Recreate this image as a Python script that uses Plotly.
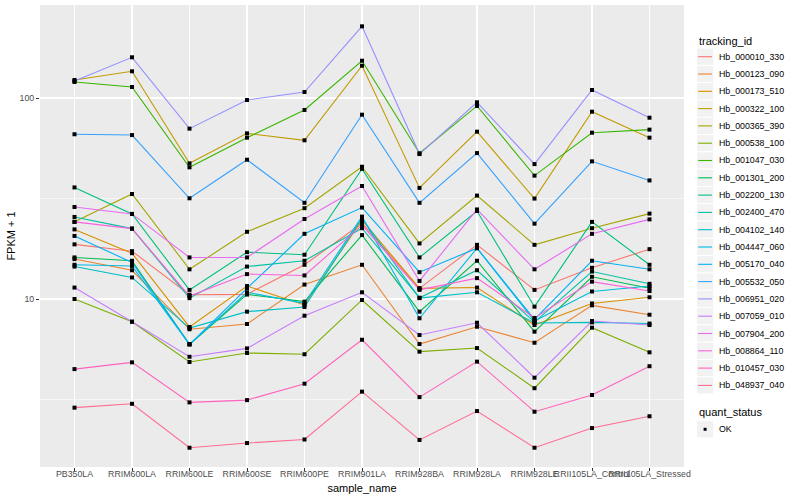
import plotly.graph_objects as go

samples = ["PB350LA", "RRIM600LA", "RRIM600LE", "RRIM600SE", "RRIM600PE", "RRIM901LA",
           "RRIM928BA", "RRIM928LA", "RRIM928LE", "RRII105LA_Control", "RRII105LA_Stressed"]

tracking_ids = ["Hb_000010_330", "Hb_000123_090", "Hb_000173_510", "Hb_000322_100",
                "Hb_000365_390", "Hb_000538_100", "Hb_001047_030", "Hb_001301_200",
                "Hb_002200_130", "Hb_002400_470", "Hb_004102_140", "Hb_004447_060",
                "Hb_005170_040", "Hb_005532_050", "Hb_006951_020", "Hb_007059_010",
                "Hb_007904_200", "Hb_008864_110", "Hb_010457_030", "Hb_048937_040"]

colors = ["#F8766D", "#EA8331", "#D89000", "#C09B00", "#A3A500", "#7CAE00", "#39B600",
          "#00BB4E", "#00BF7D", "#00C1A3", "#00BFC4", "#00BAE0", "#00B0F6", "#35A2FF",
          "#9590FF", "#C77CFF", "#E76BF3", "#FA62DB", "#FF62BC", "#FF6C91"]

# FPKM + 1 per sample
Hb_000010_330 = [18.7, 17.3, 10.5, 10.55, 14.8, 23.8, 11.3, 18.6, 11.1, 14.3, 17.7]
Hb_000123_090 = [15.8, 13.9, 7.07, 7.51, 11.8, 14.8, 5.97, 7.28, 6.06, 9.3, 8.35]
Hb_000173_510 = [22.2, 16.9, 7.26, 11.6, 9.34, 24.7, 11.3, 11.4, 7.42, 9.5, 10.2]
Hb_000322_100 = [122.9, 135.8, 47.3, 66.7, 61.6, 144.8, 35.7, 68.0, 31.6, 85.5, 63.5]
Hb_000365_390 = [24.2, 33.3, 14.05, 21.6, 28.3, 45.5, 18.9, 32.7, 18.6, 22.5, 26.6]
Hb_000538_100 = [10.0, 7.71, 4.86, 5.39, 5.31, 9.89, 5.47, 5.70, 3.60, 7.20, 5.43]
Hb_001047_030 = [120.1, 113.4, 45.2, 63.5, 87.2, 153.3, 53.1, 91.3, 41.1, 67.2, 69.6]
Hb_001301_200 = [16.1, 15.5, 5.95, 10.55, 9.70, 20.8, 8.65, 15.5, 6.88, 12.9, 11.3]
Hb_002200_130 = [35.9, 26.5, 11.1, 17.1, 16.6, 44.4, 16.1, 27.4, 9.16, 24.2, 14.8]
Hb_002400_470 = [25.6, 22.4, 10.1, 14.5, 15.5, 22.5, 10.15, 13.9, 7.68, 13.7, 11.9]
Hb_004102_140 = [14.5, 12.8, 7.17, 8.65, 9.13, 25.2, 10.1, 10.8, 7.60, 7.65, 7.55]
Hb_004447_060 = [14.8, 14.6, 5.95, 10.8, 9.52, 25.7, 8.02, 17.9, 7.77, 10.9, 11.6]
Hb_005170_040 = [20.6, 15.2, 5.95, 11.3, 21.1, 28.5, 13.6, 17.9, 7.91, 15.5, 14.05]
Hb_005532_050 = [66.0, 65.4, 31.7, 49.3, 30.1, 82.6, 30.1, 53.2, 23.7, 48.4, 38.9]
Hb_006951_020 = [121.5, 159.4, 70.4, 97.7, 107.1, 227.3, 52.6, 95.2, 46.9, 109.6, 79.8]
Hb_007059_010 = [11.4, 7.71, 5.16, 5.68, 8.26, 10.8, 6.62, 7.62, 4.06, 7.77, 7.42]
Hb_007904_200 = [28.7, 26.5, 16.1, 16.1, 25.0, 36.5, 12.3, 27.9, 14.05, 21.1, 24.9]
Hb_008864_110 = [24.2, 22.4, 10.35, 13.3, 13.1, 23.3, 11.1, 12.7, 8.05, 12.2, 10.96]
Hb_010457_030 = [4.48, 4.84, 3.06, 3.14, 3.79, 6.27, 3.25, 4.88, 2.75, 3.33, 4.63]
Hb_048937_040 = [2.88, 3.01, 1.82, 1.92, 2.00, 3.46, 1.99, 2.77, 1.82, 2.28, 2.61]

series = [Hb_000010_330, Hb_000123_090, Hb_000173_510, Hb_000322_100, Hb_000365_390,
          Hb_000538_100, Hb_001047_030, Hb_001301_200, Hb_002200_130, Hb_002400_470,
          Hb_004102_140, Hb_004447_060, Hb_005170_040, Hb_005532_050, Hb_006951_020,
          Hb_007059_010, Hb_007904_200, Hb_008864_110, Hb_010457_030, Hb_048937_040]

quant_status = ["OK"]
y_ticks = [10, 100]
y_minor = [3.1623, 31.623, 316.23]

FONT = "Liberation Sans, Arial, Helvetica, sans-serif"
W, H = 800, 500
ML, MR, MT, MB = 40, 116, 5, 33
PW, PH = W - ML - MR, H - MT - MB


def px(x):
    return (x - ML) / PW


def py(y):
    return (H - MB - y) / PH


fig = go.Figure()

for name, vals, col in zip(tracking_ids, series, colors):
    fig.add_trace(go.Scatter(x=samples, y=vals, mode="lines", name=name,
                             line=dict(color=col, width=1.1), showlegend=False,
                             hoverinfo="skip"))

all_x, all_y = [], []
for vals in series:
    all_x += samples
    all_y += vals
fig.add_trace(go.Scatter(x=all_x, y=all_y, mode="markers", name=quant_status[0],
                         marker=dict(color="black", size=4, symbol="square",
                                     line=dict(width=0)),
                         showlegend=False, hoverinfo="skip"))

shapes = []
annotations = []

# legend: tracking_id
annotations.append(dict(x=px(697), y=py(40.7), xref="paper", yref="paper",
                        text="tracking_id", showarrow=False, xanchor="left",
                        yanchor="middle", font=dict(size=11, color="black", family=FONT)))
for i, (name, col) in enumerate(zip(tracking_ids, colors)):
    cy = 56.7 + 17.3 * i
    shapes.append(dict(type="rect", xref="paper", yref="paper",
                       x0=px(696.5), x1=px(713.8), y0=py(cy - 8.65), y1=py(cy + 8.65),
                       fillcolor="#F2F2F2", line=dict(color="white", width=1), layer="above"))
    shapes.append(dict(type="line", xref="paper", yref="paper",
                       x0=px(698.2), x1=px(712.0), y0=py(cy), y1=py(cy),
                       line=dict(color=col, width=1.1), layer="above"))
    annotations.append(dict(x=px(716.5), y=py(cy), xref="paper", yref="paper",
                            text=name, showarrow=False, xanchor="left", yanchor="middle",
                            font=dict(size=8.8, color="black", family=FONT)))

# legend: quant_status
annotations.append(dict(x=px(697), y=py(412.3), xref="paper", yref="paper",
                        text="quant_status", showarrow=False, xanchor="left",
                        yanchor="middle", font=dict(size=11, color="black", family=FONT)))
cy = 429.3
shapes.append(dict(type="rect", xref="paper", yref="paper",
                   x0=px(696.5), x1=px(713.8), y0=py(cy - 8.65), y1=py(cy + 8.65),
                   fillcolor="#F2F2F2", line=dict(color="white", width=1), layer="above"))
shapes.append(dict(type="rect", xref="paper", yref="paper",
                   x0=px(703.6), x1=px(706.6), y0=py(cy - 1.5), y1=py(cy + 1.5),
                   fillcolor="black", line=dict(width=0), layer="above"))
annotations.append(dict(x=px(716.5), y=py(cy), xref="paper", yref="paper",
                        text=quant_status[0], showarrow=False, xanchor="left",
                        yanchor="middle", font=dict(size=8.8, color="black", family=FONT)))

fig.update_layout(
    width=W, height=H,
    margin=dict(l=ML, r=MR, t=MT, b=MB, autoexpand=False),
    paper_bgcolor="white",
    plot_bgcolor="#EBEBEB",
    font=dict(family=FONT, size=8.8, color="#4D4D4D"),
    showlegend=False,
    shapes=shapes,
    annotations=annotations,
    xaxis=dict(
        type="category", categoryorder="array", categoryarray=samples,
        range=[-0.6, 10.6], tickangle=0, showgrid=True, gridcolor="white", gridwidth=1.1,
        zeroline=False, showline=False, ticks="outside", ticklen=3, tickwidth=1,
        tickcolor="#333333", tickfont=dict(size=8.8, color="#4D4D4D", family=FONT),
        ticklabelstandoff=-5,
        title=dict(text="sample_name", font=dict(size=11, color="black", family=FONT),
                   standoff=6),
        automargin=False,
    ),
    yaxis=dict(
        type="log", range=[0.1642, 2.4627], tickmode="array", tickvals=y_ticks,
        ticktext=[str(v) for v in y_ticks], showgrid=True, gridcolor="white",
        gridwidth=1.1, zeroline=False, showline=False, ticks="outside", ticklen=3,
        tickwidth=1, tickcolor="#333333",
        tickfont=dict(size=8.8, color="#4D4D4D", family=FONT),
        ticklabelstandoff=0,
        minor=dict(tickmode="array", tickvals=y_minor, showgrid=True, gridcolor="white",
                   gridwidth=0.55, ticks=""),
        title=dict(text="FPKM + 1", font=dict(size=11, color="black", family=FONT),
                   standoff=1),
        automargin=False,
    ),
)

fig.write_html("out.html", post_script="document.body.style.margin='0';",
               config={"displayModeBar": False, "staticPlot": True})
